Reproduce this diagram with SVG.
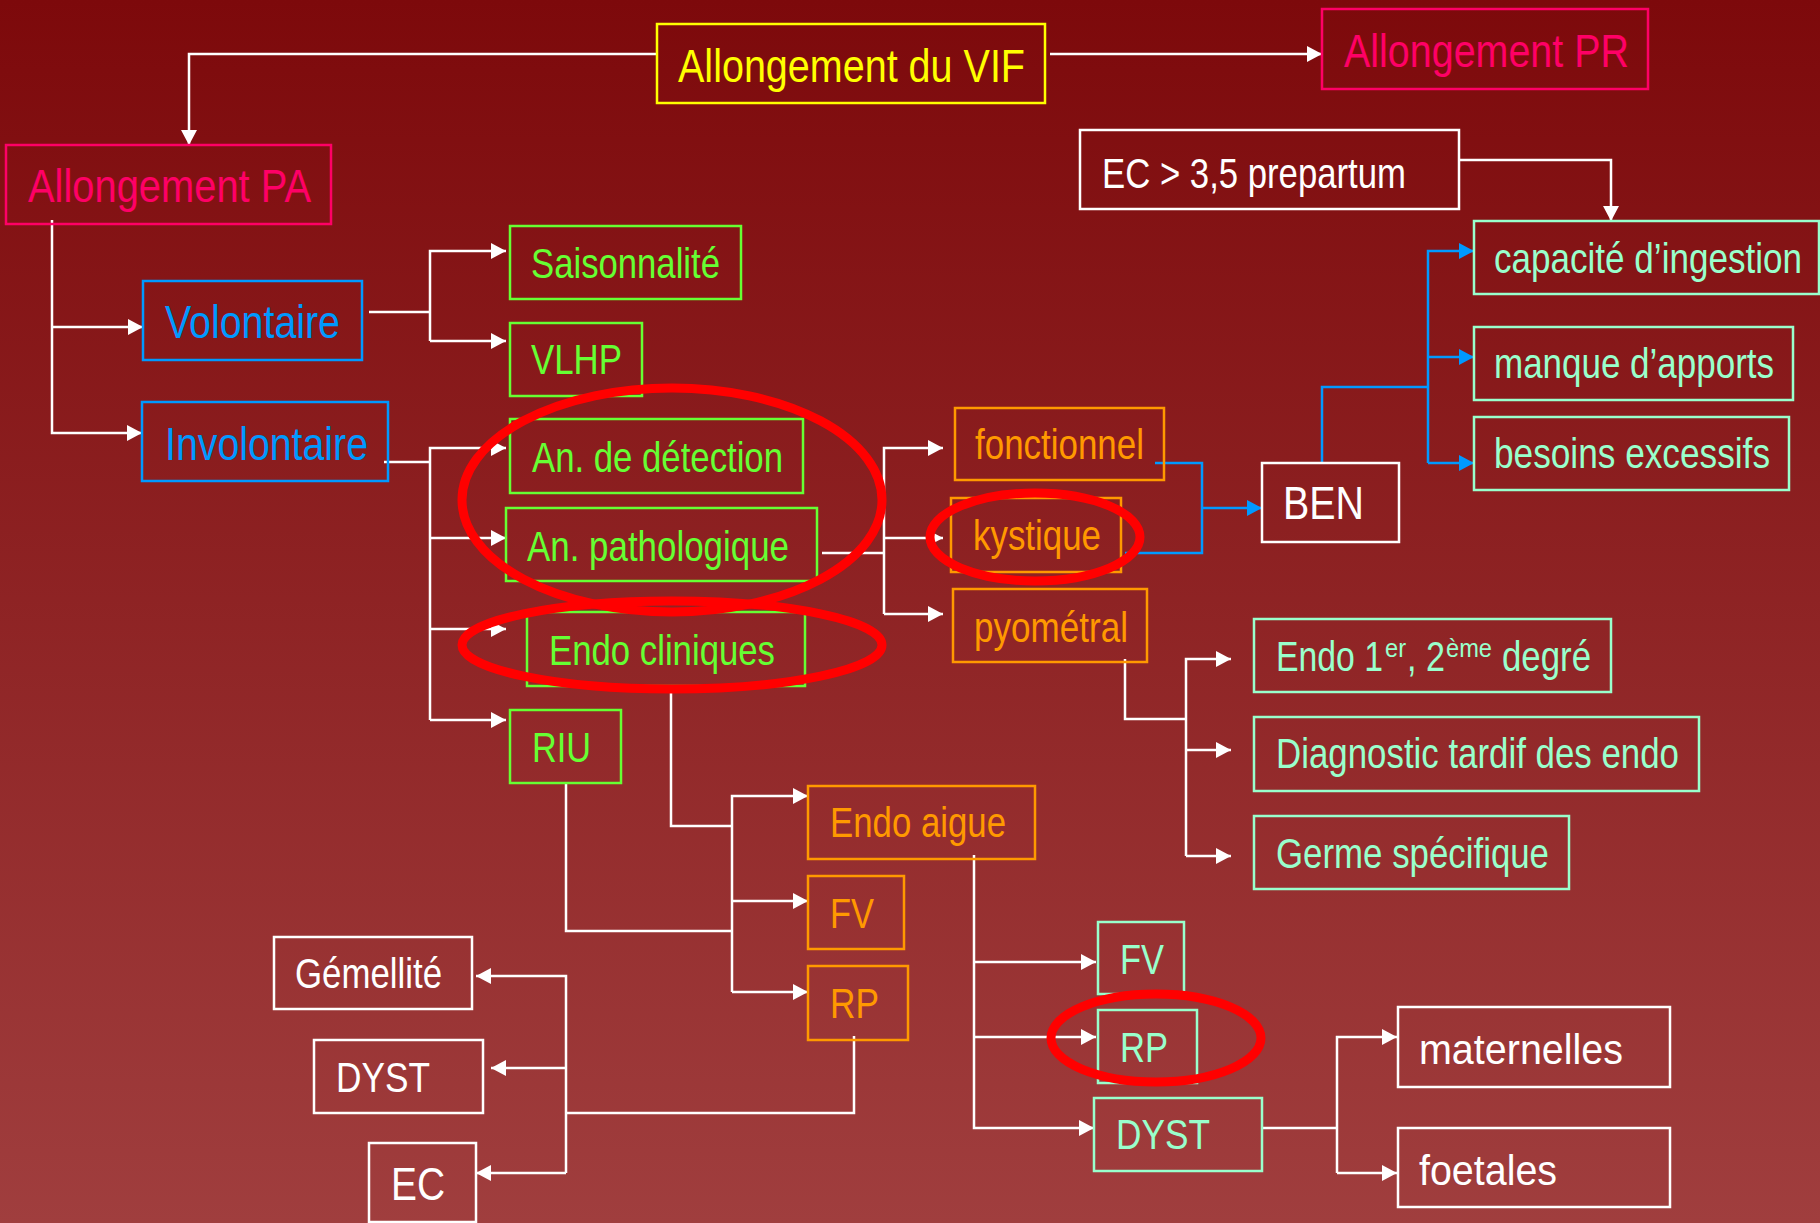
<svg xmlns="http://www.w3.org/2000/svg" width="1820" height="1223" viewBox="0 0 1820 1223">
<defs>
<linearGradient id="bg" x1="0" y1="0" x2="0" y2="1">
<stop offset="0" stop-color="#7D090B"/>
<stop offset="1" stop-color="#A03E3E"/>
</linearGradient>
<marker id="aw" markerUnits="userSpaceOnUse" markerWidth="16" markerHeight="18" refX="15" refY="8" orient="auto" viewBox="0 0 16 16">
<path d="M0,0 L15,8 L0,16 z" fill="#FFFFFF"/>
</marker>
<marker id="ab" markerUnits="userSpaceOnUse" markerWidth="16" markerHeight="18" refX="15" refY="8" orient="auto" viewBox="0 0 16 16">
<path d="M0,0 L15,8 L0,16 z" fill="#0099FF"/>
</marker>
<style>
.box{fill:none;stroke-width:2.5}
text{font-family:"Liberation Sans Narrow","Liberation Sans",Arial,sans-serif;font-size:42px}
.big{font-size:47px}
.y{stroke:#FFFF00}.ty{fill:#FFFF00}
.p{stroke:#FF0066}.tp{fill:#FF0066}
.b{stroke:#0099FF}.tb{fill:#0099FF}
.g{stroke:#66FF33}.tg{fill:#66FF33}
.o{stroke:#FF9900}.to{fill:#FF9900}
.m{stroke:#99FFCC}.tm{fill:#99FFCC}
.w{stroke:#FFFFFF}.tw{fill:#FFFFFF}
.cw{fill:none;stroke:#FFFFFF;stroke-width:2.5}
.cb{fill:none;stroke:#0099FF;stroke-width:2.5}
.ring{fill:none;stroke:#FF0000;stroke-width:9}
</style>
</defs>
<rect x="0" y="0" width="1820" height="1223" fill="url(#bg)"/>

<g id="connectors">
<path class="cw" d="M657,54 H189 V145" marker-end="url(#aw)"/>
<path class="cw" d="M1050,54 H1322" marker-end="url(#aw)"/>
<path class="cw" d="M52,220 V433 H142" marker-end="url(#aw)"/>
<path class="cw" d="M52,327 H143" marker-end="url(#aw)"/>
<path class="cw" d="M369,312 H430"/>
<path class="cw" d="M430,341 V251 H506" marker-end="url(#aw)"/>
<path class="cw" d="M430,341 H506" marker-end="url(#aw)"/>
<path class="cw" d="M384,462 H430"/>
<path class="cw" d="M430,720 V448 H506" marker-end="url(#aw)"/>
<path class="cw" d="M430,538 H506" marker-end="url(#aw)"/>
<path class="cw" d="M430,629 H506" marker-end="url(#aw)"/>
<path class="cw" d="M430,720 H506" marker-end="url(#aw)"/>
<path class="cw" d="M822,553 H884"/>
<path class="cw" d="M884,614 V448 H943" marker-end="url(#aw)"/>
<path class="cw" d="M884,538 H943" marker-end="url(#aw)"/>
<path class="cw" d="M884,614 H943" marker-end="url(#aw)"/>
<path class="cb" d="M1155,463 H1202 V553 H1125"/>
<path class="cb" d="M1202,508 H1262" marker-end="url(#ab)"/>
<path class="cb" d="M1322,463 V387 H1428"/>
<path class="cb" d="M1428,463 V251 H1474" marker-end="url(#ab)"/>
<path class="cb" d="M1428,357 H1474" marker-end="url(#ab)"/>
<path class="cb" d="M1428,463 H1474" marker-end="url(#ab)"/>
<path class="cw" d="M1459,160 H1611 V221" marker-end="url(#aw)"/>
<path class="cw" d="M1125,659 V719 H1186"/>
<path class="cw" d="M1186,856 V659 H1231" marker-end="url(#aw)"/>
<path class="cw" d="M1186,750 H1231" marker-end="url(#aw)"/>
<path class="cw" d="M1186,856 H1231" marker-end="url(#aw)"/>
<path class="cw" d="M671,686 V826 H732"/>
<path class="cw" d="M566,783 V931 H732"/>
<path class="cw" d="M732,992 V796 H808" marker-end="url(#aw)"/>
<path class="cw" d="M732,901 H808" marker-end="url(#aw)"/>
<path class="cw" d="M732,992 H808" marker-end="url(#aw)"/>
<path class="cw" d="M854,1036 V1113 H566"/>
<path class="cw" d="M566,1173 V976 H476" marker-end="url(#aw)"/>
<path class="cw" d="M566,1068 H491" marker-end="url(#aw)"/>
<path class="cw" d="M566,1173 H476" marker-end="url(#aw)"/>
<path class="cw" d="M974,855 V1128 H1094" marker-end="url(#aw)"/>
<path class="cw" d="M974,962 H1096" marker-end="url(#aw)"/>
<path class="cw" d="M974,1037 H1096" marker-end="url(#aw)"/>
<path class="cw" d="M1262,1128 H1337"/>
<path class="cw" d="M1337,1173 V1037 H1397" marker-end="url(#aw)"/>
<path class="cw" d="M1337,1173 H1397" marker-end="url(#aw)"/>
</g>

<g id="n-vif"><rect class="box y" x="657" y="24" width="388" height="79"/><text class="big ty" x="678" y="82" textLength="347" lengthAdjust="spacingAndGlyphs">Allongement du VIF</text></g>
<g id="n-pr"><rect class="box p" x="1322" y="9" width="326" height="80"/><text class="big tp" x="1344" y="67" textLength="285" lengthAdjust="spacingAndGlyphs">Allongement PR</text></g>
<g id="n-pa"><rect class="box p" x="6" y="145" width="325" height="79"/><text class="big tp" x="28" y="202" textLength="283" lengthAdjust="spacingAndGlyphs">Allongement PA</text></g>
<g id="n-vol"><rect class="box b" x="143" y="281" width="219" height="79"/><text class="big tb" x="165" y="338" textLength="175" lengthAdjust="spacingAndGlyphs">Volontaire</text></g>
<g id="n-invol"><rect class="box b" x="142" y="402" width="246" height="79"/><text class="big tb" x="165" y="460" textLength="203" lengthAdjust="spacingAndGlyphs">Involontaire</text></g>
<g id="n-sais"><rect class="box g" x="510" y="226" width="231" height="73"/><text class="tg" x="531" y="278" textLength="189" lengthAdjust="spacingAndGlyphs">Saisonnalité</text></g>
<g id="n-vlhp"><rect class="box g" x="510" y="323" width="132" height="73"/><text class="tg" x="531" y="374" textLength="91" lengthAdjust="spacingAndGlyphs">VLHP</text></g>
<g id="n-andet"><rect class="box g" x="510" y="419" width="293" height="74"/><text class="tg" x="532" y="472" textLength="251" lengthAdjust="spacingAndGlyphs">An. de détection</text></g>
<g id="n-anpath"><rect class="box g" x="506" y="508" width="311" height="73"/><text class="tg" x="527" y="561" textLength="262" lengthAdjust="spacingAndGlyphs">An. pathologique</text></g>
<g id="n-endocl"><rect class="box g" x="527" y="612" width="278" height="74"/><text class="tg" x="549" y="665" textLength="226" lengthAdjust="spacingAndGlyphs">Endo cliniques</text></g>
<g id="n-riu"><rect class="box g" x="510" y="710" width="111" height="73"/><text class="tg" x="532" y="762" textLength="59" lengthAdjust="spacingAndGlyphs">RIU</text></g>
<g id="n-fonc"><rect class="box o" x="955" y="408" width="209" height="72"/><text class="to" x="975" y="459" textLength="169" lengthAdjust="spacingAndGlyphs">fonctionnel</text></g>
<g id="n-kyst"><rect class="box o" x="951" y="498" width="170" height="74"/><text class="to" x="973" y="550" textLength="128" lengthAdjust="spacingAndGlyphs">kystique</text></g>
<g id="n-pyo"><rect class="box o" x="953" y="589" width="194" height="73"/><text class="to" x="974" y="642" textLength="154" lengthAdjust="spacingAndGlyphs">pyométral</text></g>
<g id="n-ben"><rect class="box w" x="1262" y="463" width="137" height="79"/><text class="big tw" x="1283" y="519" textLength="81" lengthAdjust="spacingAndGlyphs">BEN</text></g>
<g id="n-ec35"><rect class="box w" x="1080" y="130" width="379" height="79"/><text class="tw" x="1102" y="188" textLength="304" lengthAdjust="spacingAndGlyphs">EC &gt; 3,5 prepartum</text></g>
<g id="n-capa"><rect class="box m" x="1474" y="221" width="345" height="73"/><text class="tm" x="1494" y="273" textLength="308" lengthAdjust="spacingAndGlyphs">capacité d’ingestion</text></g>
<g id="n-manque"><rect class="box m" x="1474" y="327" width="319" height="73"/><text class="tm" x="1494" y="378" textLength="280" lengthAdjust="spacingAndGlyphs">manque d’apports</text></g>
<g id="n-besoins"><rect class="box m" x="1474" y="417" width="315" height="73"/><text class="tm" x="1494" y="468" textLength="276" lengthAdjust="spacingAndGlyphs">besoins excessifs</text></g>
<g id="n-endo12"><rect class="box m" x="1254" y="619" width="357" height="73"/><text class="tm" y="671"><tspan x="1276" textLength="107" lengthAdjust="spacingAndGlyphs">Endo 1</tspan><tspan x="1385" y="657" font-size="25" textLength="21" lengthAdjust="spacingAndGlyphs">er</tspan><tspan x="1407" y="671" textLength="38" lengthAdjust="spacingAndGlyphs">, 2</tspan><tspan x="1446" y="657" font-size="25" textLength="46" lengthAdjust="spacingAndGlyphs">ème</tspan><tspan x="1502" y="671" textLength="89" lengthAdjust="spacingAndGlyphs">degré</tspan></text></g>
<g id="n-diag"><rect class="box m" x="1254" y="717" width="445" height="74"/><text class="tm" x="1276" y="768" textLength="403" lengthAdjust="spacingAndGlyphs">Diagnostic tardif des endo</text></g>
<g id="n-germe"><rect class="box m" x="1254" y="816" width="315" height="73"/><text class="tm" x="1276" y="868" textLength="273" lengthAdjust="spacingAndGlyphs">Germe spécifique</text></g>
<g id="n-endoaig"><rect class="box o" x="808" y="786" width="227" height="73"/><text class="to" x="830" y="837" textLength="176" lengthAdjust="spacingAndGlyphs">Endo aigue</text></g>
<g id="n-fv1"><rect class="box o" x="808" y="876" width="96" height="73"/><text class="to" x="830" y="928" textLength="44" lengthAdjust="spacingAndGlyphs">FV</text></g>
<g id="n-rp1"><rect class="box o" x="808" y="966" width="100" height="74"/><text class="to" x="830" y="1018" textLength="49" lengthAdjust="spacingAndGlyphs">RP</text></g>
<g id="n-gem"><rect class="box w" x="274" y="937" width="198" height="72"/><text class="tw" x="295" y="988" textLength="147" lengthAdjust="spacingAndGlyphs">Gémellité</text></g>
<g id="n-dyst1"><rect class="box w" x="314" y="1040" width="169" height="73"/><text class="tw" x="336" y="1092" textLength="94" lengthAdjust="spacingAndGlyphs">DYST</text></g>
<g id="n-ec"><rect class="box w" x="369" y="1143" width="107" height="79"/><text class="big tw" x="391" y="1200" textLength="54" lengthAdjust="spacingAndGlyphs">EC</text></g>
<g id="n-fv2"><rect class="box m" x="1098" y="922" width="86" height="72"/><text class="tm" x="1120" y="974" textLength="44" lengthAdjust="spacingAndGlyphs">FV</text></g>
<g id="n-rp2"><rect class="box m" x="1098" y="1010" width="99" height="73"/><text class="tm" x="1120" y="1062" textLength="48" lengthAdjust="spacingAndGlyphs">RP</text></g>
<g id="n-dyst2"><rect class="box m" x="1094" y="1098" width="168" height="73"/><text class="tm" x="1116" y="1149" textLength="94" lengthAdjust="spacingAndGlyphs">DYST</text></g>
<g id="n-mat"><rect class="box w" x="1398" y="1007" width="272" height="80"/><text class="tw" x="1419" y="1064" textLength="204" lengthAdjust="spacingAndGlyphs">maternelles</text></g>
<g id="n-foet"><rect class="box w" x="1398" y="1128" width="272" height="79"/><text class="tw" x="1419" y="1185" textLength="138" lengthAdjust="spacingAndGlyphs">foetales</text></g>

<g id="highlights">
<ellipse class="ring" cx="672" cy="500" rx="210" ry="112"/>
<ellipse class="ring" cx="672" cy="645" rx="210" ry="44"/>
<ellipse class="ring" cx="1035" cy="537" rx="105" ry="44"/>
<ellipse class="ring" cx="1156" cy="1038" rx="105" ry="44"/>
</g>
</svg>
